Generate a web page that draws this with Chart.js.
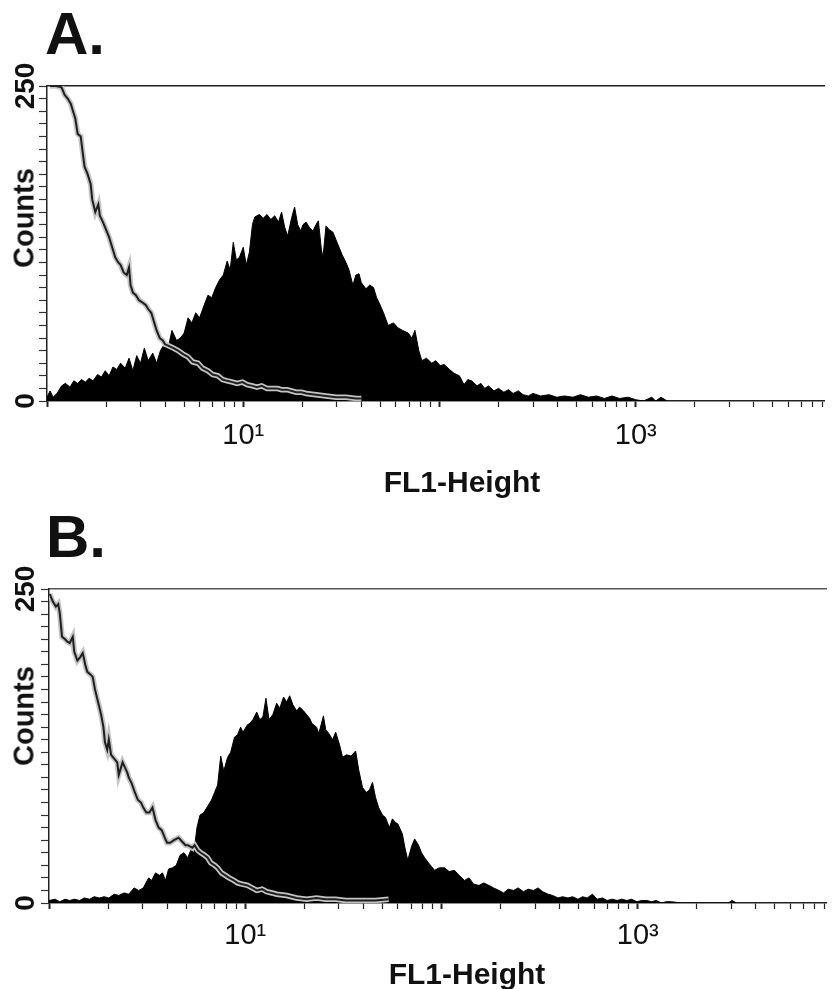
<!DOCTYPE html>
<html>
<head>
<meta charset="utf-8">
<script src="https://cdn.jsdelivr.net/npm/chart.js@4"></script>
<style>
  body { margin: 0; background: #fff; width: 835px; height: 989px; overflow: hidden; position: relative;
         font-family: "Liberation Sans", Arial, sans-serif; color: #111; }
  canvas { position: absolute; left: 0; }
  .painel { position: absolute; font-weight: bold; font-size: 60px; line-height: 1; }
  .eixoY { position: absolute; font-weight: bold; font-size: 29px; line-height: 1; white-space: nowrap;
           transform: translate(-50%, -50%) rotate(-90deg); }
  .eixoX { position: absolute; font-weight: bold; font-size: 30px; line-height: 1; white-space: nowrap;
           transform: translateX(-50%); }
</style>
</head>
<body>
<canvas id="graficoA" width="835" height="500" style="top:0"></canvas>
<canvas id="graficoB" width="835" height="489" style="top:500px"></canvas>
<div class="painel" style="left:45px;top:4px">A.</div>
<div class="painel" style="left:46px;top:507px">B.</div>
<div class="eixoY" style="left:24px;top:218px">Counts</div>
<div class="eixoY" style="left:24px;top:716px">Counts</div>
<div class="eixoX" style="left:462px;top:467px">FL1-Height</div>
<div class="eixoX" style="left:467px;top:959px">FL1-Height</div>

<script>
// canal 0..1023 = 4 decadas (256 canais por decada)
const CANAIS_POR_DECADA = 256;

// painel A - amostra (preenchida)
const canaisAmostraA = [0,4,8,13,19,24,30,35,40,45,50,55,60,66,71,76,81,86,91,96,
  102,107,112,117,122,127,132,138,143,148,153,158,163,169,174,179,184,189,194,199,
  205,210,215,220,225,230,235,239,243,247,251,256,260,264,268,271,277,282,287,292,
  297,302,306,310,314,319,323,327,331,334,338,342,347,351,354,358,360,364,368,373,
  377,381,385,390,394,399,403,407,410,416,421,426,430,434,439,445,452,458,464,471,
  476,480,485,489,495,502,507,513,518,525,531,538,544,549,554,561,566,571,576,583,
  589,596,602,608,615,621,628,634,644,655,665,675,686,696,706,717,727,737,747,758,
  768,778,789,794,801,809];
const contagensAmostraA = [3,8,3,6,12,14,11,16,14,17,15,18,16,21,19,24,20,27,25,30,
  26,34,24,36,30,42,32,38,30,40,45,42,56,48,50,54,66,62,70,66,
  76,84,82,90,96,100,111,104,126,112,114,122,108,118,140,146,148,145,148,144,
  147,142,150,138,131,145,154,140,135,140,142,138,135,140,143,120,114,139,136,134,
  128,122,116,110,104,92,100,101,94,89,92,90,82,77,70,60,62,58,56,54,
  50,56,40,32,34,30,32,28,29,25,22,20,13,17,16,12,14,10,12,8,
  10,7,9,6,8,5,4,6,4,5,3,4,3,5,3,4,2,4,2,3,
  1,0,3,0,3,0];

// painel A - controle (contorno)
const canaisControleA = [4,12,19,23,27,31,35,37,40,44,46,49,53,57,59,63,67,69,73,77,
  81,85,89,93,96,100,104,107,109,112,116,120,125,129,132,136,140,143,147,151,
  154,158,165,171,178,184,190,197,203,210,216,223,229,235,242,248,255,261,268,274,
  280,287,300,306,313,325,332,338,351,364,377,390,403,410];
const contagensControleA = [250,250,249,243,240,236,228,224,212,210,200,186,180,172,160,150,156,147,142,136,
  130,122,114,110,108,102,100,106,92,86,84,80,78,76,73,70,62,56,50,48,
  45,44,42,40,37,35,31,30,26,24,21,20,17,16,15,14,15,13,12,11,
  12,10,10,9,9,7,7,6,5,4,3,3,2,2];

// painel B - amostra (preenchida)
const canaisAmostraB = [0,8,14,21,27,33,40,46,53,59,66,72,78,85,91,98,104,111,117,123,
  130,134,139,144,148,152,156,161,166,171,176,181,185,189,193,197,202,207,212,216,
  220,224,228,233,237,242,246,250,253,259,262,266,271,275,279,283,287,292,297,301,
  306,310,314,318,323,327,332,336,340,343,349,352,358,361,365,370,374,379,383,388,
  394,400,404,409,414,418,422,426,430,435,439,444,448,452,455,461,464,468,473,477,
  482,486,490,495,499,503,509,516,522,529,535,542,548,554,561,567,574,580,587,593,
  599,606,612,619,625,632,638,644,651,657,664,670,677,683,690,696,702,709,715,722,
  728,735,741,747,754,760,767,773,780,786,792,799,805,812,825,886,891,897];
const contagensAmostraB = [2,3,1,3,2,3,2,4,3,5,4,5,4,7,6,8,7,12,10,12,
  20,18,24,22,24,18,27,28,30,38,40,36,42,40,60,70,72,77,82,88,
  94,117,105,116,120,132,134,140,136,142,143,146,152,146,148,163,146,150,159,155,
  164,160,165,158,153,156,153,150,147,143,140,135,149,138,135,130,136,126,116,118,
  117,121,106,92,88,90,96,84,76,70,68,60,67,64,63,55,45,34,45,51,
  46,40,36,32,29,26,28,28,25,26,22,18,20,15,14,16,14,12,10,8,
  11,10,12,9,11,10,12,9,7,6,4,5,4,5,3,5,4,7,3,4,
  2,3,2,3,2,3,1,2,2,1,2,0,1,1,0,0,2,0];

// painel B - controle (contorno)
const canaisControleB = [1,5,9,12,14,17,21,24,27,31,33,37,41,44,48,50,54,57,60,64,
  68,71,73,76,78,81,85,89,91,94,96,99,102,104,108,112,116,120,123,127,
  131,135,139,143,147,151,154,158,163,169,172,178,181,187,190,194,198,203,207,211,
  216,220,225,230,235,241,246,252,259,265,271,278,284,291,297,310,323,336,349,361,
  374,387,400,413,426,443];
const contagensControleB = [246,240,236,238,231,212,210,208,207,212,200,193,196,199,188,184,182,180,170,160,
  150,140,128,122,130,118,115,112,102,108,112,108,104,100,95,88,82,80,76,72,
  72,76,66,60,58,52,48,48,50,52,50,46,46,44,46,42,40,38,36,32,
  30,28,24,22,20,18,16,15,14,12,10,11,9,8,7,6,4,3,4,3,
  3,2,2,2,2,3];

// rotulos dos eixos
const valoresRotuloX = [10, 1000];
const textosRotuloX = ["10\u00b9", "10\u00b3"];
const rotulosY = [0, 250];

const fonte = "'Liberation Sans', Arial, sans-serif";
const corTexto = "#111";

function paraPontos(canais, contagens) {
    return canais.map((c, i) => ({ x: Math.pow(10, c / CANAIS_POR_DECADA), y: contagens[i] }));
}

function marcasLog(max) {
    const marcas = [];
    for (let d = 0; d < 4; d++) {
        for (let m = 1; m <= 9; m++) {
            const v = m * Math.pow(10, d);
            if (v <= max) marcas.push({ value: v, major: m === 1 });
        }
    }
    return marcas;
}

function criarPainel(idCanvas, amostra, controle, area) {
    const maxX = 9150;
    new Chart(document.getElementById(idCanvas), {
        type: "line",
        data: {
            datasets: [
                // contorno do controle: linha escura por cima de um halo claro
                { data: controle, borderColor: "#1e1e1e", borderWidth: 2, fill: false, pointRadius: 0, tension: 0 },
                { data: controle, borderColor: "#c4c4c4", borderWidth: 5.5, fill: false, pointRadius: 0, tension: 0 },
                { data: amostra, borderColor: "#000", backgroundColor: "#000", borderWidth: 1,
                  fill: "origin", pointRadius: 0, tension: 0 }
            ]
        },
        options: {
            responsive: false,
            animation: false,
            devicePixelRatio: 1,
            events: [],
            layout: { padding: { top: area.topo, left: 0, right: 0, bottom: 0 } },
            plugins: { legend: { display: false }, tooltip: { enabled: false } },
            scales: {
                x: {
                    type: "logarithmic",
                    min: 1,
                    max: maxX,
                    afterBuildTicks: s => { s.ticks = marcasLog(maxX); },
                    afterFit: s => { s.height = area.alturaX; },
                    ticks: {
                        autoSkip: false, minRotation: 0, maxRotation: 0,
                        padding: area.padX,
                        color: corTexto,
                        font: { family: fonte, size: 29 },
                        callback: v => {
                            const i = valoresRotuloX.indexOf(v);
                            return i >= 0 ? textosRotuloX[i] : "";
                        }
                    },
                    grid: {
                        drawOnChartArea: false, tickLength: 6, tickColor: "#222",
                        tickWidth: c => (c.tick && c.tick.major ? 2 : 1.2)
                    },
                    border: { color: "#222", width: 1.5 }
                },
                xTopo: {
                    type: "linear", position: "top", min: 0, max: 1,
                    afterFit: s => { s.height = 0; },
                    ticks: { display: false },
                    grid: { display: false },
                    border: { display: true, color: area.corTopo, width: 1.6 }
                },
                y: {
                    min: 0,
                    max: 250,
                    afterFit: s => { s.width = area.larguraY; },
                    ticks: {
                        stepSize: 10, autoSkip: false,
                        minRotation: 90, maxRotation: 90,
                        crossAlign: "center",
                        padding: area.padY,
                        color: corTexto,
                        font: { family: fonte, size: 28, weight: "bold" },
                        callback: v => (rotulosY.includes(v) ? String(v) : "")
                    },
                    grid: { drawOnChartArea: false, tickLength: 8, tickColor: "#333", tickWidth: 1.2 },
                    border: { color: "#222", width: 1.5 }
                }
            }
        }
    });
}

criarPainel("graficoA", paraPontos(canaisAmostraA, contagensAmostraA), paraPontos(canaisControleA, contagensControleA),
    { topo: 86, alturaX: 99, larguraY: 47, padX: 12, padY: -11, corTopo: "#222" });

criarPainel("graficoB", paraPontos(canaisAmostraB, contagensAmostraB), paraPontos(canaisControleB, contagensControleB),
    { topo: 89, alturaX: 86, larguraY: 49, padX: 10, padY: -9, corTopo: "#555" });
</script>
</body>
</html>
